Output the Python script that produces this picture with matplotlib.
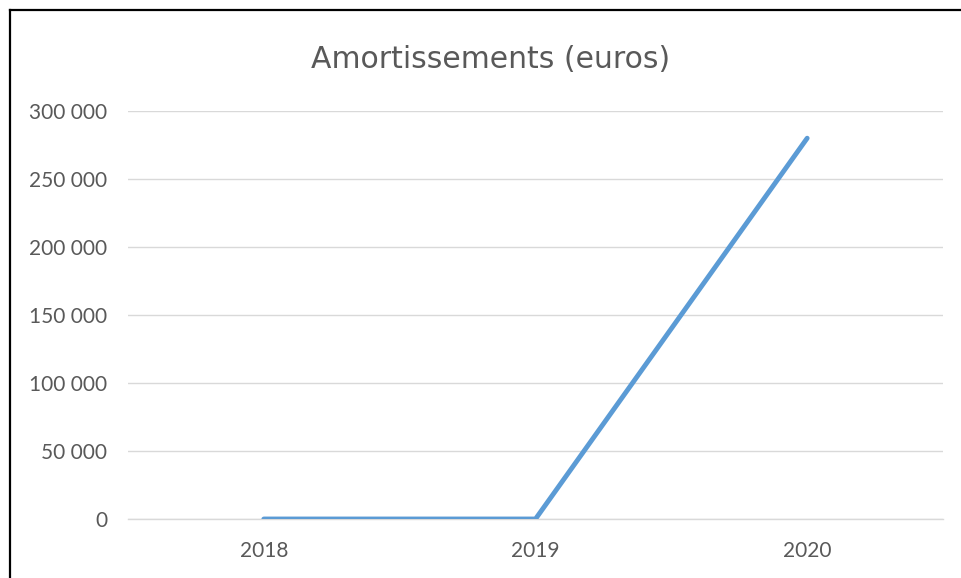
import matplotlib
matplotlib.use("Agg")
import matplotlib.pyplot as plt
from matplotlib.lines import Line2D
from matplotlib.ticker import FuncFormatter

years = ["2018", "2019", "2020"]
values = [0, 0, 280000]
yticks = [0, 50000, 100000, 150000, 200000, 250000, 300000]

W, H = 961, 578
fig = plt.figure(figsize=(W / 100, H / 100), dpi=100)
fig.patch.set_facecolor("white")

# axes in pixel coordinates
x0, x1 = 128, 943
yt, yb = 111, 519
ax = fig.add_axes([x0 / W, 1 - yb / H, (x1 - x0) / W, (yb - yt) / H])

ax.plot(range(len(years)), values, color="#5B9BD5", linewidth=3.5,
        solid_capstyle="round", zorder=3)
ax.set_xlim(-0.5, len(years) - 0.5)
ax.set_ylim(0, 300000)
ax.set_yticks(yticks)
ax.yaxis.set_major_formatter(FuncFormatter(lambda v, p: f"{int(v):,}".replace(",", " ")))
ax.set_xticks(range(len(years)))
ax.set_xticklabels(years)
ax.grid(axis="y", color="#D9D9D9", linewidth=1)
ax.set_axisbelow(True)
for s in ["top", "right", "left"]:
    ax.spines[s].set_visible(False)
ax.spines["bottom"].set_color("#D9D9D9")
ax.spines["bottom"].set_linewidth(1)
ax.tick_params(length=0, labelsize=15, labelcolor="#595959")
for lbl in ax.get_xticklabels() + ax.get_yticklabels():
    lbl.set_family("Lato")
ax.tick_params(axis="y", pad=15)
ax.tick_params(axis="x", pad=16)

fig.text(491 / W, 1 - 59 / H, "Amortissements (euros)", ha="center", va="center",
         fontsize=21.5, color="#595959", family="DejaVu Sans")

# outer border (left and top visible)
fig.add_artist(Line2D([10 / W, 10 / W], [0, 1 - 10 / H], color="black", linewidth=1.6,
                      transform=fig.transFigure))
fig.add_artist(Line2D([10 / W, 1], [1 - 10 / H, 1 - 10 / H], color="black", linewidth=1.6,
                      transform=fig.transFigure))

fig.savefig("out.png", dpi=100)
